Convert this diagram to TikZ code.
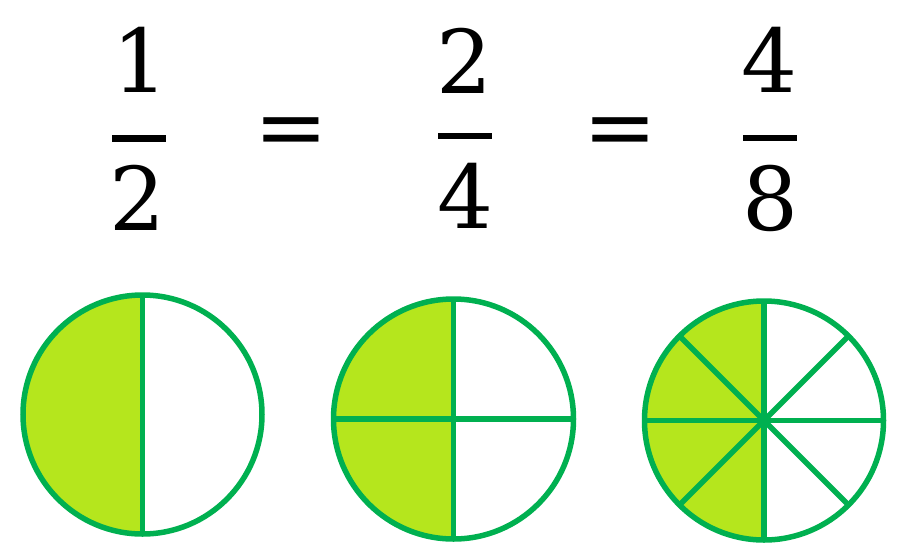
\documentclass[tikz,border=0pt]{standalone}
\usepackage{fontspec}
\setmainfont{DejaVu Serif}
\definecolor{ring}{HTML}{00B050}
\definecolor{limefill}{HTML}{B5E61D}
\begin{document}
\begin{tikzpicture}[x=1pt,y=-1pt,
  digit/.style={font=\fontsize{88}{88}\selectfont, inner sep=0pt, anchor=base},
  eqsign/.style={font=\fontsize{88}{88}\selectfont, inner sep=0pt},
  fracbar/.style={line width=6.5pt, black},
  ringline/.style={draw=ring, line width=5.5pt},
  half/.style={fill=limefill}]
\useasboundingbox (0,0) rectangle (903,552);
% fractions
\node[digit] (n1) at (140,92) {1};
\node[digit] (d1) at (137,230) {2};
\coordinate (b1l) at (112,138.5); \coordinate (b1r) at (166,138.5);
\draw[fracbar] (b1l) -- (b1r);
\node[eqsign] (e1) at (291.5,137.5) {=};
\node[digit] (n2) at (464,93) {2};
\node[digit] (d2) at (465.5,228) {4};
\coordinate (b2l) at (438,136); \coordinate (b2r) at (492,136);
\draw[fracbar] (b2l) -- (b2r);
\node[eqsign] (e2) at (620.5,137.5) {=};
\node[digit] (n3) at (769,92) {4};
\node[digit] (d3) at (770,230) {8};
\coordinate (b3l) at (743,138); \coordinate (b3r) at (797,138);
\draw[fracbar] (b3l) -- (b3r);
% circle 1
\coordinate (o1) at (142.5,414.5);
\fill[half] (o1) ++(90:119.5) arc[start angle=90,end angle=270,radius=119.5] -- cycle;
\draw[ringline] (o1) circle[radius=119.5];
\draw[ringline] (o1) ++(90:119.5) -- ++(0,-239);
% circle 2
\coordinate (o2) at (453.5,419);
\fill[half] (o2) ++(90:120) arc[start angle=90,end angle=270,radius=120] -- cycle;
\draw[ringline] (o2) circle[radius=120];
\foreach \a in {0,90,180,270} \draw[ringline] (o2) -- ++(\a:118);
% circle 3
\coordinate (o3) at (764,420.5);
\fill[half] (o3) ++(90:119.5) arc[start angle=90,end angle=270,radius=119.5] -- cycle;
\draw[ringline] (o3) circle[radius=119.5];
\foreach \a in {0,45,...,315} \draw[ringline] (o3) -- ++(\a:118);
\end{tikzpicture}
\end{document}
